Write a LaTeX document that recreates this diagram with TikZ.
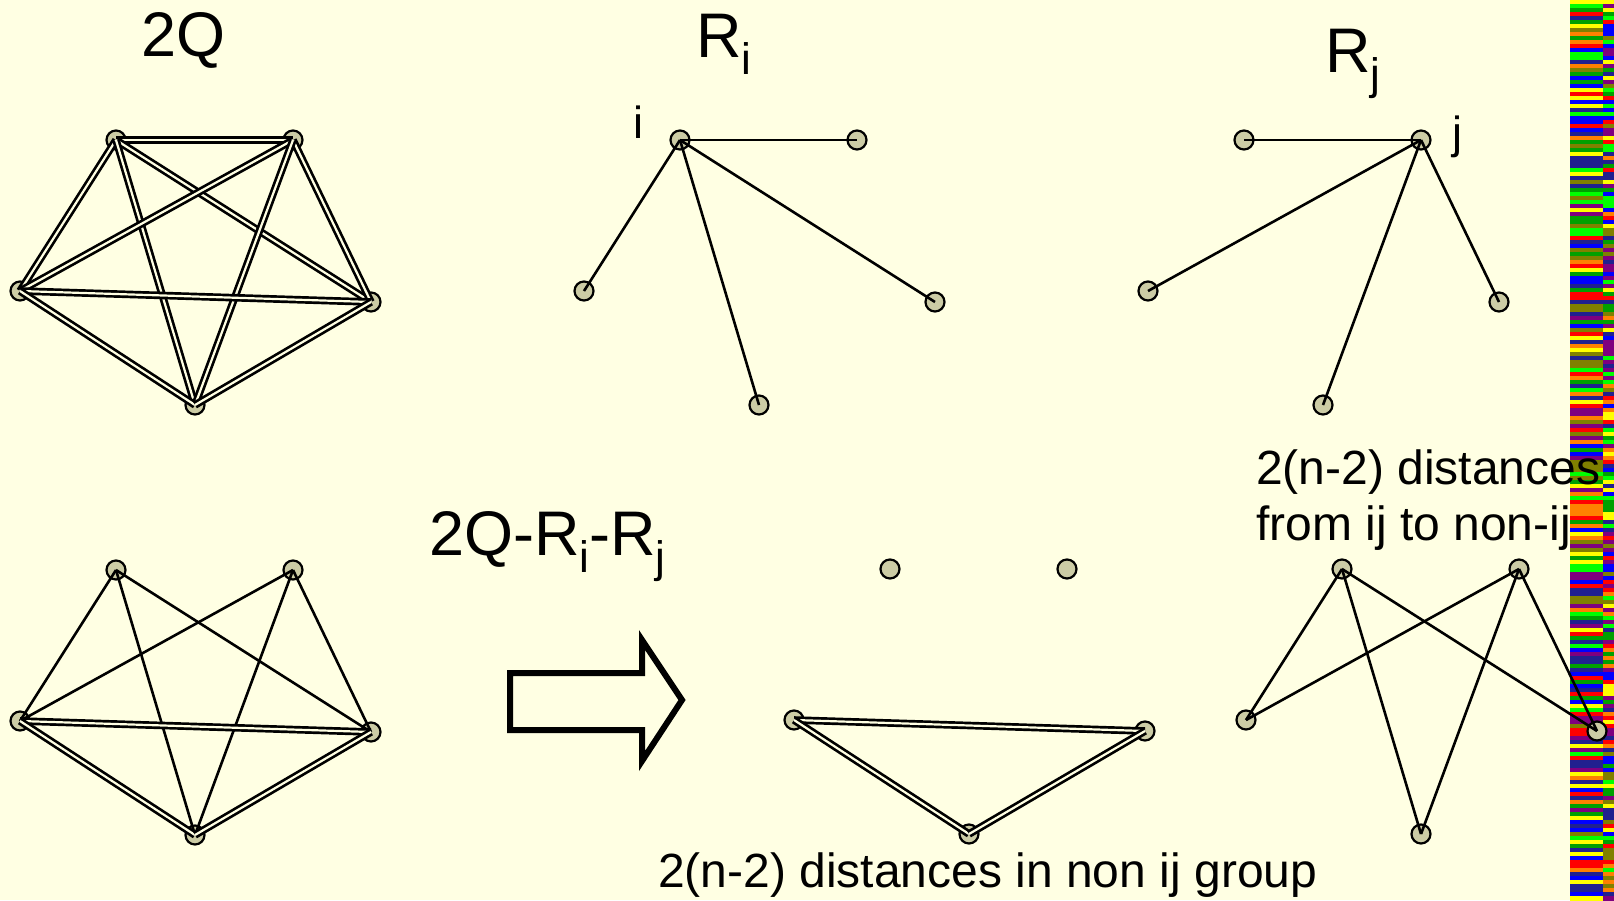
\documentclass[tikz,border=0pt]{standalone}
\usepackage{fontspec}
\setmainfont{Liberation Sans}
\usepackage{graphicx}
\usepackage{xcolor}
\definecolor{paper}{HTML}{FFFFE3}
\definecolor{sage}{HTML}{CCCCA5}
\definecolor{strip1}{HTML}{0000FF}
\definecolor{strip2}{HTML}{FF0000}
\definecolor{strip3}{HTML}{00FF00}
\definecolor{strip4}{HTML}{FFFF00}
\definecolor{strip5}{HTML}{FF8000}
\definecolor{strip6}{HTML}{7F007F}
\definecolor{strip7}{HTML}{808000}
\definecolor{strip8}{HTML}{00A000}
\definecolor{strip9}{HTML}{20208F}
\usepackage{tikz}
\usetikzlibrary{calc}

\newcommand{\lowsub}[1]{\raisebox{-0.28em}{\scalebox{0.7}{#1}}}

\begin{document}
\begin{tikzpicture}[x=1pt, y=-1pt,
  vtx/.style={circle, draw, line width=2.2pt, fill=sage, minimum size=19pt, inner sep=0pt},
  link/.style={line width=2.6pt},
  dlink/.style={line width=2.7pt, double=paper, double distance=2.2pt},
  lbl/.style={anchor=base west, inner sep=0pt},
  title/.style={font=\fontsize{63}{66}\selectfont},
  tag/.style={font=\fontsize{45}{48}\selectfont},
  note/.style={font=\fontsize{48}{52}\selectfont}]
\fill[paper] (0,0) rectangle (1614,900);
\useasboundingbox (0,0) rectangle (1614,900);

% colour strip on the right edge
\pgfmathsetseed{11}
\foreach \r in {0,...,224}{
  \pgfmathrandominteger{\ca}{1}{9}
  \pgfmathrandominteger{\cb}{1}{9}
  \fill[strip\ca] (1570,\r*4) rectangle (1603,\r*4+4.5);
  \fill[strip\cb] (1603,\r*4) rectangle (1614,\r*4+4.5);
}

% six copies of the five points
\foreach \g/\dx/\dy in {q/0/0, ri/564/0, rj/1128/0, l/0/430, m/774/429, r/1226/429}
  \foreach \v/\x/\y in {a/116/140, b/293/140, c/20/291, d/371/302, e/195/405}
    \node[vtx] (\g\v) at (\x+\dx,\y+\dy) {};

% 2Q: every pair counted twice
\foreach \s/\t in {a/b,a/c,a/d,a/e,b/c,b/d,b/e,c/d,c/e,d/e}
  \draw[dlink] (q\s.center) -- (q\t.center);
% R_i and R_j
\foreach \t in {b,c,d,e}
  \draw[link] (ria.center) -- (ri\t.center);
\foreach \t in {a,c,d,e}
  \draw[link] (rjb.center) -- (rj\t.center);
% 2Q-R_i-R_j and the split on the right
\foreach \s/\t in {a/c,a/d,a/e,b/c,b/d,b/e} {
  \draw[link] (l\s.center) -- (l\t.center);
  \draw[link] (r\s.center) -- (r\t.center);
}
\foreach \s/\t in {c/d,c/e,d/e} {
  \draw[dlink] (l\s.center) -- (l\t.center);
  \draw[dlink] (m\s.center) -- (m\t.center);
}

% block arrow
\draw[line width=6pt] (510,673) -- (642,673) -- (642,640) -- (682,700)
  -- (642,761) -- (642,730) -- (510,730) -- cycle;

\node[lbl, title] (ttlq) at (141,56) {2Q};
\node[lbl, title] (ttlri) at (696,57) {R\lowsub{i}};
\node[lbl, title] (ttlrj) at (1325,72) {R\lowsub{j}};
\node[lbl, tag] (tagi) at (633,138) {i};
\node[lbl, tag] (tagj) at (1452,148) {j};
\node[lbl, title] (ttlmix) at (429,555) {2Q-R\lowsub{i}-R\lowsub{j}};
\node[lbl, note] (fromij) at (1256,484) {2(n-2) distances};
\node[lbl, note] (toij) at (1256,540) {from ij to non-ij};
\node[lbl, note] (nonij) at (658,887) {2(n-2) distances in non ij group};
\end{tikzpicture}
\end{document}
